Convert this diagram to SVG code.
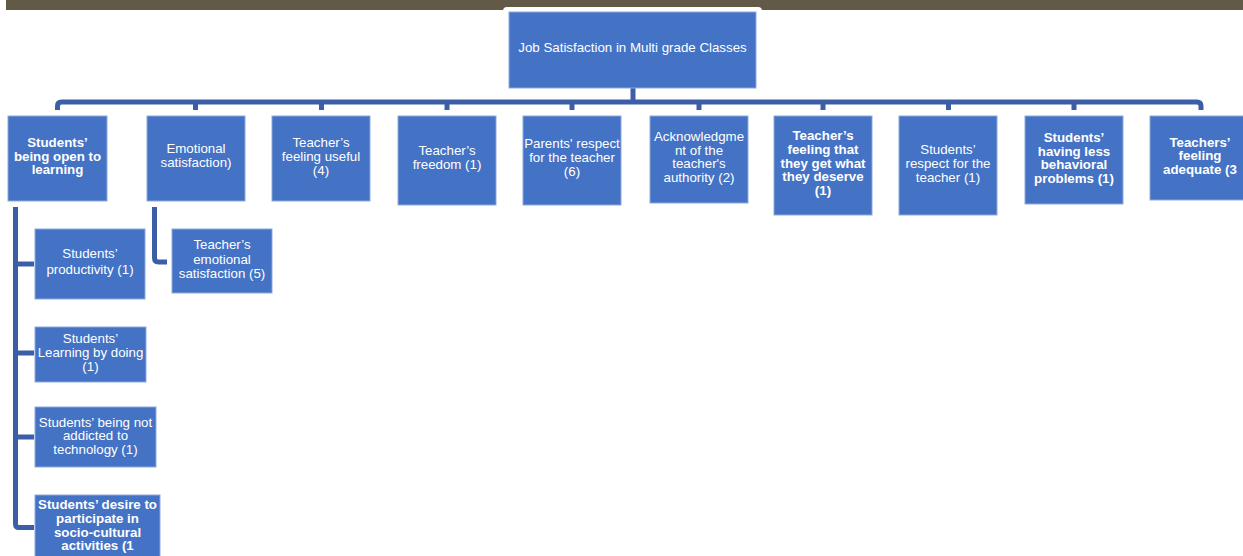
<svg xmlns="http://www.w3.org/2000/svg" width="1243" height="556" viewBox="0 0 1243 556">
<style>
.box{fill:#4472c4;stroke:#8eaadb;stroke-width:1}
.t{font-family:"Liberation Sans",Arial,sans-serif;font-size:13.3px;fill:#ffffff;text-anchor:middle}
.b{font-weight:bold}
.c{fill:none;stroke:#3b5ea6;stroke-width:5;stroke-linejoin:round}
</style>
<rect x="6" y="0" width="1237" height="10" fill="#625a46"/>
<rect x="503" y="7" width="259" height="90" rx="4" fill="#ffffff"/>
<g id="connectors">
<path class="c" d="M633 88 V102"/>
<path class="c" d="M57.5 110 V106 Q57.5 102 61.5 102 H1197 Q1201 102 1201 106 V110"/>
<path class="c" d="M195.5 102 V110 M321.5 102 V110 M447 102 V110 M572 102 V110 M699 102 V110 M823 102 V110 M948.5 102 V110 M1074 102 V110"/>
<path class="c" d="M15.5 207 V524 Q15.5 527.5 19 527.5 H34"/>
<path class="c" d="M15.5 264 H34 M15.5 353 H34 M15.5 437 H34"/>
<path class="c" d="M154.5 207 V258 Q154.5 262 158.5 262 H167"/>
</g>
<g id="root"><rect class="box" x="509" y="12" width="247" height="76"/><text class="t" x="632.5" y="52">Job Satisfaction in Multi grade Classes</text></g>
<g id="n1"><rect class="box" x="8" y="116" width="99" height="85"/><text class="t b" x="57.5"><tspan x="57.5" y="147">Students’</tspan><tspan x="57.5" y="161">being open to</tspan><tspan x="57.5" y="174">learning</tspan></text></g>
<g id="n2"><rect class="box" x="147" y="116" width="98" height="85"/><text class="t" x="196"><tspan x="196" y="153">Emotional</tspan><tspan x="196" y="167">satisfaction)</tspan></text></g>
<g id="n3"><rect class="box" x="272" y="116" width="98" height="85"/><text class="t" x="321"><tspan x="321" y="147">Teacher’s</tspan><tspan x="321" y="161">feeling useful</tspan><tspan x="321" y="175">(4)</tspan></text></g>
<g id="n4"><rect class="box" x="398" y="116" width="98" height="89"/><text class="t" x="447"><tspan x="447" y="155">Teacher’s</tspan><tspan x="447" y="169">freedom (1)</tspan></text></g>
<g id="n5"><rect class="box" x="523" y="116" width="98" height="89"/><text class="t" x="572"><tspan x="572" y="148">Parents' respect</tspan><tspan x="572" y="162">for the teacher</tspan><tspan x="572" y="176">(6)</tspan></text></g>
<g id="n6"><rect class="box" x="650" y="116" width="98" height="87"/><text class="t" x="699"><tspan x="699" y="141">Acknowledgme</tspan><tspan x="699" y="155">nt of the</tspan><tspan x="699" y="168">teacher's</tspan><tspan x="699" y="182">authority (2)</tspan></text></g>
<g id="n7"><rect class="box" x="774" y="116" width="98" height="99"/><text class="t b" x="823"><tspan x="823" y="140">Teacher’s</tspan><tspan x="823" y="154">feeling that</tspan><tspan x="823" y="168">they get what</tspan><tspan x="823" y="181">they deserve</tspan><tspan x="823" y="195">(1)</tspan></text></g>
<g id="n8"><rect class="box" x="899" y="116" width="98" height="99"/><text class="t" x="948"><tspan x="948" y="154">Students’</tspan><tspan x="948" y="168">respect for the</tspan><tspan x="948" y="182">teacher (1)</tspan></text></g>
<g id="n9"><rect class="box" x="1025" y="116" width="98" height="88"/><text class="t b" x="1074"><tspan x="1074" y="142">Students’</tspan><tspan x="1074" y="156">having less</tspan><tspan x="1074" y="169">behavioral</tspan><tspan x="1074" y="183">problems (1)</tspan></text></g>
<g id="n10"><rect class="box" x="1150" y="116" width="98" height="84"/><text class="t b" x="1200"><tspan x="1200" y="147">Teachers’</tspan><tspan x="1200" y="160">feeling</tspan><tspan x="1200" y="174">adequate (3</tspan></text></g>
<g id="s1"><rect class="box" x="35" y="229" width="110" height="70"/><text class="t" x="90"><tspan x="90" y="258">Students’</tspan><tspan x="90" y="274">productivity (1)</tspan></text></g>
<g id="s2"><rect class="box" x="35" y="327" width="111" height="55"/><text class="t" x="90.5"><tspan x="90.5" y="343">Students’</tspan><tspan x="90.5" y="357">Learning by doing</tspan><tspan x="90.5" y="371">(1)</tspan></text></g>
<g id="s3"><rect class="box" x="35" y="407" width="121" height="60"/><text class="t" x="95.5"><tspan x="95.5" y="427">Students’ being not</tspan><tspan x="95.5" y="440">addicted to</tspan><tspan x="95.5" y="454">technology (1)</tspan></text></g>
<g id="s4"><rect class="box" x="35" y="495" width="125" height="65"/><text class="t b" x="97.5"><tspan x="97.5" y="509">Students’ desire to</tspan><tspan x="97.5" y="523">participate in</tspan><tspan x="97.5" y="537">socio-cultural</tspan><tspan x="97.5" y="550">activities (1</tspan></text></g>
<g id="s5"><rect class="box" x="172" y="229" width="100" height="64"/><text class="t" x="222"><tspan x="222" y="249">Teacher’s</tspan><tspan x="222" y="264">emotional</tspan><tspan x="222" y="278">satisfaction (5)</tspan></text></g>
</svg>
